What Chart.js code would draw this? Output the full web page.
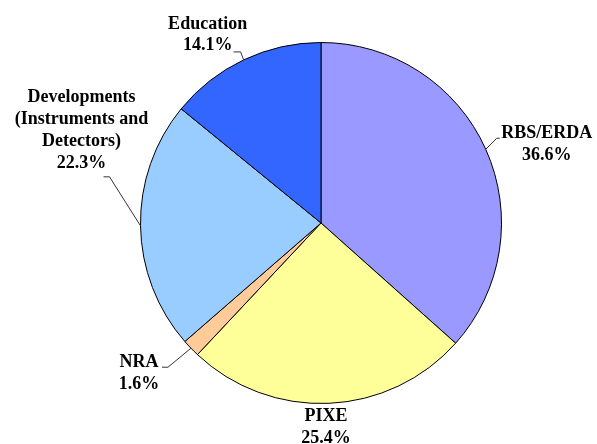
<!DOCTYPE html>
<html>
<head>
<meta charset="utf-8">
<script src="https://cdn.jsdelivr.net/npm/chart.js@4/dist/chart.umd.min.js"></script>
<style>
  html, body { margin: 0; padding: 0; background: #fff; }
  #wrap { width: 597px; height: 444px; }
</style>
</head>
<body>
<div id="wrap"><canvas id="pieChart" width="597" height="444"></canvas></div>
<script>
// slice names (label lines) and shares in percent
const categories = [
  ['RBS/ERDA'],
  ['PIXE'],
  ['NRA'],
  ['Developments', '(Instruments and', 'Detectors)'],
  ['Education']
];
const shares = [36.6, 25.4, 1.6, 22.3, 14.1];
const sliceColors = ['#9999FF', '#FFFF99', '#FFCC99', '#99CCFF', '#3366FF'];

// where each label sits relative to the outer point of its slice
const labelPlacement = [
  { text: [61, -16], elbow: [11, -11], tail: [14, -11] },
  { text: [-3, 13] },
  { text: [-52, 14], elbow: [-23, 19], tail: [-29, 19] },
  { text: [-59, -128], elbow: [-31, -49], tail: [-37, -49] },
  { text: [-36, -36], elbow: [-3, -8], tail: [-10, -8] }
];

const pieLabels = {
  id: 'pieLabels',
  afterDatasetsDraw(chart) {
    const ctx = chart.ctx;
    const arcs = chart.getDatasetMeta(0).data;
    ctx.save();
    ctx.font = 'bold 18px "Liberation Serif", "Times New Roman", serif';
    ctx.fillStyle = '#000';
    ctx.textAlign = 'center';
    ctx.textBaseline = 'middle';
    arcs.forEach((arc, i) => {
      const mid = (arc.startAngle + arc.endAngle) / 2;
      const ex = arc.x + Math.cos(mid) * arc.outerRadius;
      const ey = arc.y + Math.sin(mid) * arc.outerRadius;
      const p = labelPlacement[i];
      if (p.elbow) {
        ctx.beginPath();
        ctx.strokeStyle = '#333';
        ctx.lineWidth = 1;
        ctx.moveTo(ex, ey);
        ctx.lineTo(ex + p.elbow[0], ey + p.elbow[1]);
        ctx.lineTo(ex + p.tail[0], ey + p.tail[1]);
        ctx.stroke();
      }
      const lines = categories[i].concat([shares[i].toFixed(1) + '%']);
      lines.forEach((t, k) => {
        ctx.fillText(t, ex + p.text[0], ey + p.text[1] + k * 21.7);
      });
    });
    ctx.restore();
  }
};

new Chart(document.getElementById('pieChart'), {
  type: 'pie',
  data: {
    labels: categories.map(c => c.join(' ')),
    datasets: [{
      data: shares,
      backgroundColor: sliceColors,
      borderColor: '#000',
      borderWidth: 1
    }]
  },
  options: {
    responsive: false,
    animation: false,
    layout: { padding: { left: 140, right: 95, top: 42, bottom: 40 } },
    plugins: {
      legend: { display: false },
      tooltip: { enabled: false }
    }
  },
  plugins: [pieLabels]
});
</script>
</body>
</html>
